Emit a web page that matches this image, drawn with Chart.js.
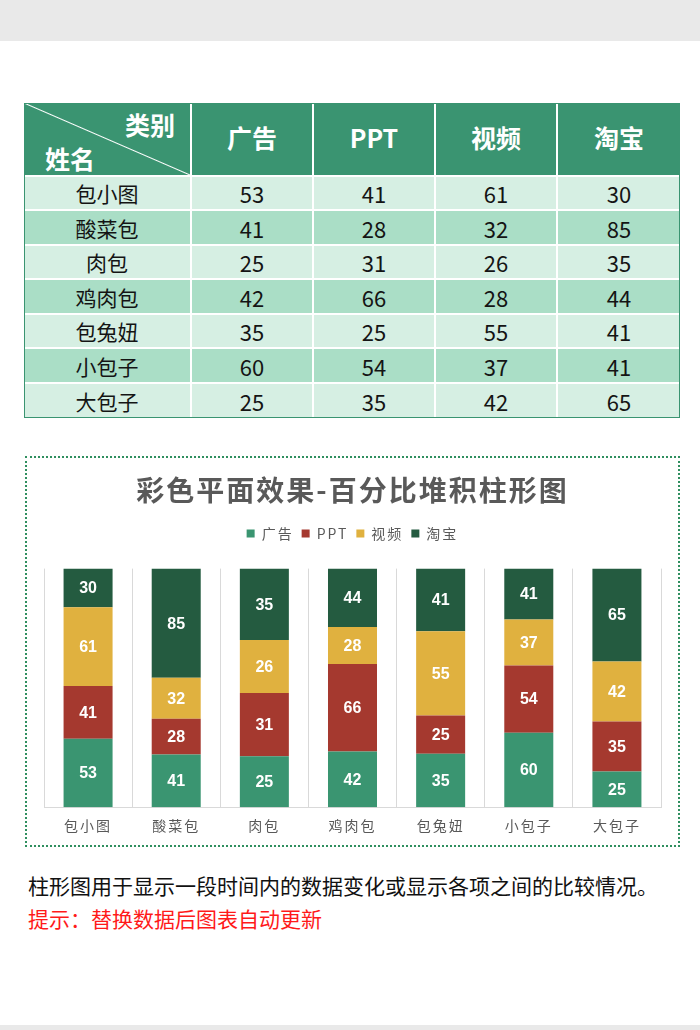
<!DOCTYPE html>
<html>
<head>
<meta charset="utf-8">
<script src="https://cdn.jsdelivr.net/npm/chart.js@4.4.1/dist/chart.umd.min.js"></script>
<style>
  body {
    margin: 0;
    width: 700px;
    height: 1030px;
    background: #fff;
    position: relative;
    overflow: hidden;
    font-family: "Noto Sans CJK SC", sans-serif;
  }
  .band-top { position: absolute; left: 0; top: 0; width: 700px; height: 41px; background: #e9e9e9; }
  .band-bottom { position: absolute; left: 0; top: 1025px; width: 700px; height: 5px; background: #e9e9e9; }
  .cell {
    position: absolute;
    box-sizing: border-box;
    display: flex;
    align-items: center;
    justify-content: center;
    color: #141414;
    font-size: 21px;
  }
  .cell.num { font-size: 22px; }
  .cell.head { background: #3a9471; color: #fff; font-weight: bold; font-size: 25px; }
  .frame {
    position: absolute;
    left: 24px;
    top: 103px;
    width: 656px;
    height: 315px;
    box-sizing: border-box;
    border: 1px solid #3a9471;
  }
  .corner span { position: absolute; color: #fff; font-weight: bold; font-size: 25px; line-height: 1; }
  #chartBox {
    position: absolute;
    left: 25px;
    top: 456px;
    width: 655px;
    height: 391px;
    box-sizing: border-box;
    border: 2px dotted #2f8f5f;
  }
  .note { position: absolute; left: 28px; font-size: 21px; line-height: 24px; white-space: nowrap; }
</style>
</head>
<body>
<div class="band-top"></div>
<div id="table"></div>
<div id="chartBox"><canvas id="chart" width="651" height="387"></canvas></div>
<div class="note" style="top:873px;color:#111;">柱形图用于显示一段时间内的数据变化或显示各项之间的比较情况。</div>
<div class="note" style="top:906px;color:#ff1a1a;">提示：替换数据后图表自动更新</div>
<div class="band-bottom"></div>

<script>
// Data
var names = ["包小图", "酸菜包", "肉包", "鸡肉包", "包兔妞", "小包子", "大包子"];
var seriesNames = ["广告", "PPT", "视频", "淘宝"];
var adValues = [53, 41, 25, 42, 35, 60, 25];
var pptValues = [41, 28, 31, 66, 25, 54, 35];
var videoValues = [61, 32, 26, 28, 55, 37, 42];
var taobaoValues = [30, 85, 35, 44, 41, 41, 65];
var seriesColors = ["#3a9571", "#a5392f", "#e0b13f", "#245b40"];

var allValues = [adValues, pptValues, videoValues, taobaoValues];
var fontCJK = "'Noto Sans CJK SC', sans-serif";

// Table
var colX = [24, 192, 314, 436, 558, 680];
var rowY = [103, 177, 211, 246, 280, 315, 349, 384, 418];
var table = document.getElementById("table");

function addCell(c, r, html, cls, bg) {
  var d = document.createElement("div");
  d.className = "cell " + (cls || "");
  d.style.left = colX[c] + "px";
  d.style.top = rowY[r] + "px";
  d.style.width = (colX[c + 1] - colX[c]) + "px";
  d.style.height = (rowY[r + 1] - rowY[r]) + "px";
  if (c < 4) d.style.borderRight = "2px solid #fff";
  if (r < 7) d.style.borderBottom = "2px solid #fff";
  if (bg) d.style.background = bg;
  d.innerHTML = html;
  table.appendChild(d);
  return d;
}

var corner = addCell(0, 0, "", "head corner");
corner.style.background =
  "linear-gradient(to top right, #3a9471 calc(50% - 1px), #fff 50%, #3a9471 calc(50% + 1px))";
corner.innerHTML =
  '<span style="left:101px;top:9px;">类别</span><span style="left:21px;top:43px;">姓名</span>';

for (var s = 0; s < seriesNames.length; s++) {
  var h = addCell(s + 1, 0, seriesNames[s], "head");
  h.style.paddingBottom = "5px";
}
for (var i = 0; i < names.length; i++) {
  var bg = i % 2 === 0 ? "#d6efe3" : "#aadec6";
  addCell(0, i + 1, names[i], "", bg);
  for (var k = 0; k < allValues.length; k++) {
    addCell(k + 1, i + 1, allValues[k][i], "num", bg);
  }
}
var frame = document.createElement("div");
frame.className = "frame";
table.appendChild(frame);

// 100% stacked: share of each bar total
var totals = names.map(function (n, j) {
  return adValues[j] + pptValues[j] + videoValues[j] + taobaoValues[j];
});
function toPercent(arr) {
  return arr.map(function (v, j) { return v / totals[j] * 100; });
}

// letter spacing for chart texts
var spacing = {
  id: "spacing",
  beforeUpdate: function (chart) { chart.ctx.letterSpacing = "2px"; },
  beforeDraw: function (chart) { chart.ctx.letterSpacing = "2px"; }
};

// value labels inside segments
var barLabels = {
  id: "barLabels",
  afterDatasetsDraw: function (chart) {
    var ctx = chart.ctx;
    ctx.save();
    ctx.letterSpacing = "0px";
    ctx.font = "bold 16px 'Liberation Sans', Arial, sans-serif";
    ctx.fillStyle = "#fff";
    ctx.textAlign = "center";
    ctx.textBaseline = "middle";
    chart.data.datasets.forEach(function (ds, i) {
      chart.getDatasetMeta(i).data.forEach(function (bar, j) {
        var c = bar.getCenterPoint();
        ctx.fillText(ds.raw[j], c.x, c.y + 1);
      });
    });
    ctx.restore();
  }
};

var datasets = seriesNames.map(function (name, i) {
  return {
    label: name,
    data: toPercent(allValues[i]),
    raw: allValues[i],
    backgroundColor: seriesColors[i],
    borderWidth: 0,
    barPercentage: 1,
    categoryPercentage: 0.556
  };
});

new Chart(document.getElementById("chart"), {
  type: "bar",
  data: { labels: names, datasets: datasets },
  plugins: [spacing, barLabels],
  options: {
    responsive: false,
    devicePixelRatio: 1,
    animation: false,
    layout: { padding: { left: 17, right: 17, top: 0, bottom: 1 } },
    plugins: {
      title: {
        display: true,
        text: "彩色平面效果-百分比堆积柱形图",
        color: "#595959",
        font: { size: 28, weight: "bold", family: fontCJK },
        padding: { top: 16, bottom: 11 }
      },
      legend: {
        labels: {
          boxWidth: 8,
          boxHeight: 8,
          padding: 8,
          color: "#595959",
          font: { size: 14, family: fontCJK }
        }
      },
      tooltip: { enabled: false }
    },
    scales: {
      x: {
        stacked: true,
        grid: { offset: true, color: "#d9d9d9", drawTicks: false },
        border: { color: "#d9d9d9" },
        ticks: { color: "#595959", padding: 10, font: { size: 14, family: fontCJK } }
      },
      xTop: {
        type: "category",
        position: "top",
        grid: { display: false },
        border: { display: false },
        ticks: { display: false },
        afterFit: function (scale) { scale.height = 18; }
      },
      y: { stacked: true, display: false, min: 0, max: 100 }
    }
  }
});
</script>
</body>
</html>
